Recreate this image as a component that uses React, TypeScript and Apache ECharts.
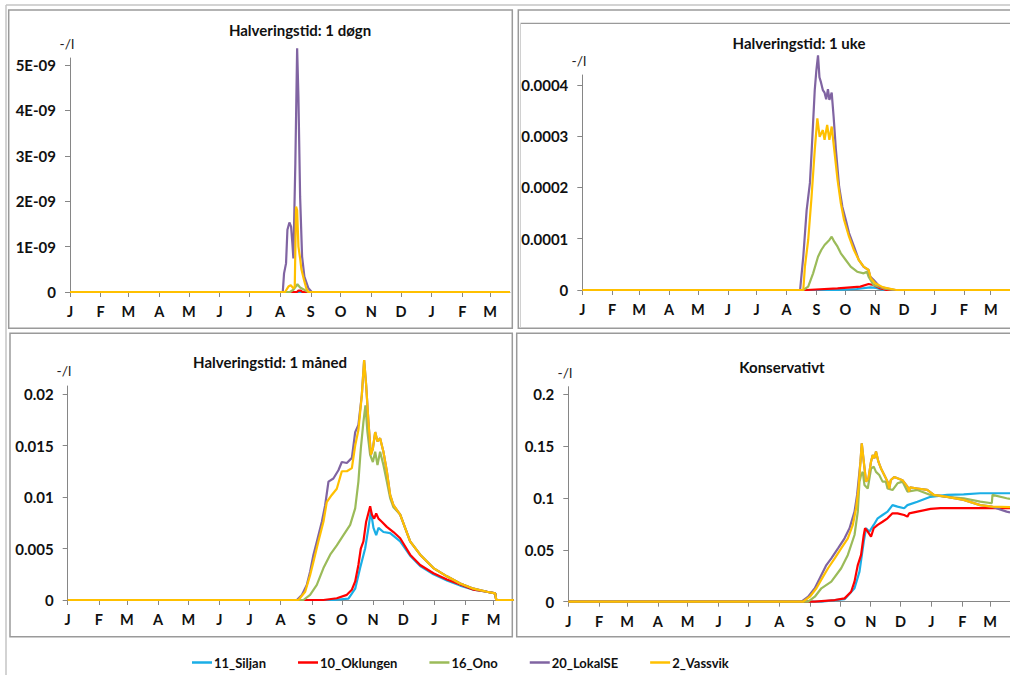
import React, { useEffect, useRef } from 'react';
import * as echarts from 'echarts';

// ---------- shared ----------
const seriesNames = ['11_Siljan', '10_Oklungen', '16_Ono', '20_LokalSE', '2_Vassvik'];
const seriesColors = ['#1AAEE6', '#FF0000', '#9BBB59', '#8064A2', '#FFC000'];
// day index from 1 January
const monthStarts = [0, 31, 59, 90, 120, 151, 181, 212, 243, 273, 304, 334, 365, 396, 424];
const monthLabels = ['J', 'F', 'M', 'A', 'M', 'J', 'J', 'A', 'S', 'O', 'N', 'D', 'J', 'F', 'M'];
const xMaxDay = 444;

// ---------- panel 1: Halveringstid 1 døgn ----------
const yTicks1 = [0, 1e-9, 2e-9, 3e-9, 4e-9, 5e-9];
const yLabels1 = ['0', '1E-09', '2E-09', '3E-09', '4E-09', '5E-09'];
const p1Siljan = [[0, 0], [444, 0]];
const p1Oklungen = [[0, 0], [229, 0], [230.5, 0.03e-9], [233, 0.03e-9], [234.5, 0], [444, 0]];
const p1Ono = [[0, 0], [222, 0], [225.4, 0.05e-9], [229.5, 0.17e-9], [232.2, 0.1e-9], [237.2, 0.04e-9], [240.6, 0], [444, 0]];
const p1LokalSE = [[0, 0], [214.7, 0], [216, 0.41e-9], [218, 0.63e-9], [219.4, 1.37e-9], [221.4, 1.53e-9], [223.1, 1.44e-9], [224.4, 1.07e-9], [225.4, 0.74e-9], [227.4, 2.84e-9], [229.2, 5.37e-9], [230.5, 4.3e-9], [232.2, 2.1e-9], [234.2, 0.78e-9], [236.5, 0.34e-9], [240.6, 0.08e-9], [244, 0], [444, 0]];
const p1Vassvik = [[0, 0], [217, 0], [220.4, 0.12e-9], [222.8, 0.15e-9], [225.4, 0.08e-9], [226.8, 0.12e-9], [228.1, 1.88e-9], [229.2, 1.8e-9], [230.5, 1.0e-9], [232.2, 0.74e-9], [233.5, 0.5e-9], [236.2, 0.26e-9], [238.5, 0.08e-9], [240.5, 0], [444, 0]];

// ---------- panel 2: Halveringstid 1 uke ----------
const yTicks2 = [0, 0.0001, 0.0002, 0.0003, 0.0004];
const yLabels2 = ['0', '0.0001', '0.0002', '0.0003', '0.0004'];
const p2Siljan = [[0, 0], [265, 0], [285, 0.000002], [298.9, 0.000005], [305, 0.000004], [312.4, 0], [444, 0]];
const p2Oklungen = [[0, 0], [232.9, 0], [265, 0.0000033], [288.7, 0.0000065], [297.2, 0.0000117], [302.3, 0.0000098], [309, 0.0000033], [315.7, 0], [444, 0]];
const p2Ono = [[0, 0], [229.4, 0], [234.5, 0.0000065], [239.6, 0.0000325], [244.7, 0.000065], [248.1, 0.000078], [251.5, 0.0000878], [256.5, 0.0000976], [258.9, 0.000104], [261.6, 0.0000943], [265, 0.0000845], [268.4, 0.0000716], [273.5, 0.0000585], [278.6, 0.0000455], [285.3, 0.0000357], [292.1, 0.0000325], [295.5, 0.0000357], [297.2, 0.000026], [302.3, 0.0000098], [312.4, 0.0000033], [322.5, 0], [444, 0]];
const p2LokalSE = [[0, 0], [226.1, 0], [229.4, 0.000065], [232.9, 0.000156], [236.3, 0.000209], [238, 0.000267], [241.3, 0.00039], [243, 0.000429], [244.7, 0.000458], [246.2, 0.000415], [247.8, 0.000405], [249.7, 0.00039], [251.5, 0.000385], [253.2, 0.000372], [255, 0.000392], [256.5, 0.000371], [258.9, 0.000385], [260.9, 0.000338], [263.3, 0.000273], [266.6, 0.000202], [270, 0.000162], [273.5, 0.000137], [276.9, 0.000111], [282, 0.000085], [287, 0.000059], [292.1, 0.000045], [297.2, 0.000039], [298.9, 0.000026], [302.3, 0.00002], [309, 0.000006], [319.2, 0.000002], [325, 0], [444, 0]];
const p2Vassvik = [[0, 0], [229.4, 0], [231.1, 0.0000455], [234.5, 0.0000976], [238, 0.000182], [241.3, 0.000273], [244, 0.000335], [246.4, 0.000299], [249.7, 0.000312], [251.5, 0.000293], [254.2, 0.000322], [256.5, 0.000293], [258.9, 0.000319], [261.6, 0.000273], [265, 0.000215], [268.4, 0.000169], [271.7, 0.000137], [276.9, 0.000104], [282, 0.000078], [287, 0.0000585], [292.1, 0.0000455], [297.2, 0.000039], [299.5, 0.0000228], [304, 0.000013], [312.4, 0.000005], [325.9, 0], [444, 0]];

// ---------- panel 3: Halveringstid 1 måned ----------
const yTicks3 = [0, 0.005, 0.01, 0.015, 0.02];
const yLabels3 = ['0', '0.005', '0.01', '0.015', '0.02'];
const p3Siljan = [[0, 0], [264.5, 0], [279.5, 0.00014], [286.2, 0.0011], [291.1, 0.0031], [296.1, 0.005], [299.4, 0.007], [301.8, 0.0086], [304.4, 0.007], [307.1, 0.0063], [309.4, 0.007], [314.3, 0.0066], [321, 0.0065], [331, 0.0057], [340.9, 0.0043], [350.9, 0.0033], [364.1, 0.0025], [377.5, 0.0019], [390.7, 0.0014], [404, 0.001], [417.3, 0.0008], [425.6, 0.00065], [426.6, 0], [444, 0]];
const p3Oklungen = [[0, 0], [254.6, 0], [267.9, 0.00017], [277.9, 0.0005], [282.9, 0.001], [286.2, 0.0018], [289.4, 0.0034], [291.8, 0.005], [294.4, 0.0057], [297.1, 0.0076], [301.1, 0.0091], [302.8, 0.0083], [305.1, 0.0079], [307.1, 0.0084], [309.4, 0.0079], [312.7, 0.0076], [317.7, 0.0071], [324.3, 0.0066], [331, 0.006], [340.9, 0.0044], [350.9, 0.0034], [364.1, 0.0026], [377.5, 0.002], [390.7, 0.0015], [404, 0.001], [417.3, 0.0008], [425.6, 0.00065], [426.6, 0], [444, 0]];
const p3Ono = [[0, 0], [234.7, 0], [241.3, 0.0005], [248, 0.00146], [254.6, 0.0031], [261.3, 0.0044], [267.9, 0.0053], [274.5, 0.0063], [281.2, 0.0073], [286.2, 0.0089], [289.4, 0.0115], [291.8, 0.0147], [294.4, 0.0173], [296.4, 0.0189], [298.4, 0.0163], [301.1, 0.0141], [303.8, 0.0134], [306.1, 0.0144], [308.4, 0.0131], [311, 0.0144], [314.3, 0.0131], [317.7, 0.0115], [321, 0.0099], [324.3, 0.009], [331, 0.0083], [340.9, 0.0057], [350.9, 0.0044], [364.1, 0.0031], [377.5, 0.0023], [390.7, 0.0016], [404, 0.0011], [417.3, 0.0008], [425.6, 0.00065], [426.6, 0], [444, 0]];
const p3LokalSE = [[0, 0], [228.1, 0], [233.1, 0.00049], [238, 0.00146], [241.3, 0.00275], [244.6, 0.00437], [248, 0.00566], [253, 0.0076], [256.3, 0.0092], [259.6, 0.0115], [264.5, 0.0118], [269.5, 0.0126], [272.9, 0.0134], [277.9, 0.0133], [282.9, 0.0138], [286.2, 0.0163], [289.4, 0.017], [292.8, 0.0199], [295.1, 0.0233], [297.1, 0.0209], [299.4, 0.0173], [301.8, 0.0141], [303.8, 0.0147], [306.1, 0.0163], [308.4, 0.0154], [311, 0.0157], [314.3, 0.0144], [317.7, 0.0125], [321, 0.0102], [324.3, 0.0092], [331, 0.0083], [340.9, 0.0057], [350.9, 0.0044], [364.1, 0.0031], [377.5, 0.0023], [390.7, 0.0016], [404, 0.0011], [417.3, 0.0008], [425.6, 0.00065], [426.6, 0], [444, 0]];
const p3Vassvik = [[0, 0], [229.7, 0], [236.4, 0.0008], [241.3, 0.0024], [244.6, 0.0037], [249.6, 0.0057], [254.6, 0.0076], [257.9, 0.0095], [262.9, 0.0102], [267.9, 0.0108], [272.9, 0.0125], [277.9, 0.0125], [282.9, 0.0128], [286.2, 0.015], [289.4, 0.0165], [292.8, 0.0199], [295.1, 0.0233], [297.1, 0.0209], [299.4, 0.0173], [301.8, 0.0141], [303.8, 0.0147], [306.1, 0.0163], [308.4, 0.0154], [311, 0.0157], [314.3, 0.0144], [317.7, 0.0125], [321, 0.0102], [324.3, 0.0092], [331, 0.0083], [340.9, 0.0057], [350.9, 0.0044], [364.1, 0.0031], [377.5, 0.0023], [390.7, 0.0016], [404, 0.0011], [417.3, 0.0008], [425.6, 0.00065], [426.6, 0], [444, 0]];

// ---------- panel 4: Konservativt ----------
const yTicks4 = [0, 0.05, 0.1, 0.15, 0.2];
const yLabels4 = ['0', '0.05', '0.1', '0.15', '0.2'];
const p4Siljan = [[0, 0], [254.4, 0], [277.7, 0.0024], [287.7, 0.0129], [292.7, 0.0289], [297, 0.0578], [299.3, 0.0707], [302.7, 0.0674], [307, 0.0739], [311, 0.0803], [315.9, 0.0835], [320.9, 0.0867], [325.9, 0.093], [330.9, 0.0915], [337.6, 0.09], [340.9, 0.093], [350.9, 0.0963], [364.1, 0.101], [380.8, 0.1028], [397.4, 0.1034], [414, 0.1044], [444, 0.1044]];
const p4Oklungen = [[0, 0], [247.8, 0], [267.8, 0.0016], [277.7, 0.0032], [284.3, 0.0096], [287.7, 0.0193], [291, 0.0353], [294.3, 0.045], [297, 0.0642], [298.3, 0.0707], [301, 0.0674], [304.3, 0.0626], [307, 0.0707], [311, 0.0739], [315.9, 0.077], [320.9, 0.0803], [325.9, 0.0851], [330.9, 0.0851], [337.6, 0.0835], [340.9, 0.0819], [342.6, 0.085], [350.9, 0.0867], [364.1, 0.0893], [374.1, 0.09], [444, 0.09]];
const p4Ono = [[0, 0], [241.1, 0], [247.8, 0.0048], [254.4, 0.0129], [264.4, 0.0193], [274.3, 0.0322], [281, 0.045], [287.7, 0.0642], [291, 0.0867], [292.7, 0.1156], [294.3, 0.122], [296, 0.125], [297.7, 0.1124], [301, 0.109], [304.3, 0.128], [307, 0.13], [309.3, 0.125], [312.6, 0.122], [315.9, 0.1156], [319.2, 0.1156], [320.9, 0.109], [325.9, 0.1075], [330.9, 0.114], [335.9, 0.1156], [340.9, 0.106], [350.9, 0.1076], [364.1, 0.1028], [380.8, 0.101], [397.4, 0.0996], [414, 0.0963], [425.7, 0.0948], [426.4, 0.1028], [440.6, 0.0996], [444, 0.099]];
const p4LokalSE = [[0, 0], [234.4, 0], [241.1, 0.0048], [247.8, 0.0129], [254.4, 0.0257], [259.4, 0.0353], [264.4, 0.0418], [271.1, 0.0514], [277.7, 0.061], [282.7, 0.0707], [287.7, 0.0867], [290.3, 0.1028], [293.7, 0.1348], [295, 0.1525], [297, 0.1348], [299.3, 0.1156], [301.7, 0.1188], [304.3, 0.1348], [306, 0.1413], [307.7, 0.1381], [309.3, 0.1445], [311.7, 0.1348], [314.2, 0.1285], [317.6, 0.122], [320.9, 0.1156], [322.6, 0.109], [324.2, 0.1172], [327.6, 0.12], [330.9, 0.1188], [335.9, 0.117], [340.9, 0.1108], [342.6, 0.106], [343.5, 0.11], [350.9, 0.109], [360.8, 0.1076], [367.5, 0.1028], [380.8, 0.101], [397.4, 0.098], [414, 0.093], [425.7, 0.0915], [440.6, 0.0867], [444, 0.086]];
const p4Vassvik = [[0, 0], [236.1, 0], [242.8, 0.0048], [249.4, 0.0129], [256.1, 0.0241], [261.1, 0.0322], [267.8, 0.0418], [274.3, 0.0514], [281, 0.061], [286, 0.0739], [289.3, 0.09], [291.7, 0.1092], [293.7, 0.1348], [295, 0.1525], [297, 0.1348], [299.3, 0.1156], [301.7, 0.1188], [304.3, 0.1348], [306, 0.1413], [307.7, 0.1381], [309.3, 0.1445], [311.7, 0.1348], [314.2, 0.1285], [317.6, 0.122], [320.9, 0.1156], [322.6, 0.109], [324.2, 0.1172], [327.6, 0.12], [330.9, 0.1188], [335.9, 0.117], [340.9, 0.1108], [342.6, 0.106], [343.5, 0.11], [350.9, 0.109], [360.8, 0.1076], [367.5, 0.1028], [380.8, 0.101], [397.4, 0.098], [414, 0.093], [425.7, 0.0915], [444, 0.091]];

const FONT = 'Lato, "Open Sans", sans-serif';

const panels = [
  { title: 'Halveringstid: 1 døgn', titlePos: [300, 30], unitPos: [67, 43], grid: { left: 70, top: 58, width: 440, height: 234 }, yMax: 5.154e-9, yTicks: yTicks1, yLabels: yLabels1, data: [p1Siljan, p1Oklungen, p1Ono, p1LokalSE, p1Vassvik] },
  { title: 'Halveringstid: 1 uke', titlePos: [799, 43], unitPos: [579, 60], grid: { left: 582.3, top: 75, width: 437, height: 215 }, yMax: 0.0004195, yTicks: yTicks2, yLabels: yLabels2, data: [p2Siljan, p2Oklungen, p2Ono, p2LokalSE, p2Vassvik] },
  { title: 'Halveringstid: 1 måned', titlePos: [270, 362], unitPos: [64, 370], grid: { left: 67.7, top: 386, width: 446, height: 214 }, yMax: 0.02078, yTicks: yTicks3, yLabels: yLabels3, data: [p3Siljan, p3Oklungen, p3Ono, p3LokalSE, p3Vassvik] },
  { title: 'Konservativt', titlePos: [782, 367], unitPos: [565, 372], grid: { left: 568.3, top: 386.7, width: 445, height: 215 }, yMax: 0.207, yTicks: yTicks4, yLabels: yLabels4, data: [p4Siljan, p4Oklungen, p4Ono, p4LokalSE, p4Vassvik] },
];

const AXIS_COLOR = '#868686';
const BORDER = '#9a9a9a';
const OUTER = '#c4c4c4';

function buildOption() {
  const grids = panels.map((p) => p.grid);
  const xAxes = panels.map((p, i) => ({
    type: 'value',
    gridIndex: i,
    min: 0,
    max: xMaxDay,
    splitLine: { show: false },
    axisLine: { show: true, lineStyle: { color: AXIS_COLOR, width: 1 } },
    axisTick: { show: true, length: 5, lineStyle: { color: AXIS_COLOR }, customValues: monthStarts },
    axisLabel: {
      customValues: monthStarts,
      margin: 12,
      color: '#111',
      fontFamily: FONT,
      fontWeight: 'bold',
      fontSize: 14.5,
      formatter: (v: number) => {
        const k = monthStarts.indexOf(Math.round(v));
        return k >= 0 ? monthLabels[k] : '';
      },
    },
  }));
  const yAxes = panels.map((p, i) => ({
    type: 'value',
    gridIndex: i,
    min: 0,
    max: p.yMax,
    splitLine: { show: false },
    axisLine: { show: true, lineStyle: { color: AXIS_COLOR, width: 1 } },
    axisTick: { show: true, length: 5, lineStyle: { color: AXIS_COLOR }, customValues: p.yTicks },
    axisLabel: {
      customValues: p.yTicks,
      margin: 14,
      color: '#111',
      fontFamily: FONT,
      fontWeight: 'bold',
      fontSize: 15,
      formatter: (v: number) => {
        let best = 0;
        p.yTicks.forEach((t, k) => {
          if (Math.abs(t - v) < Math.abs(p.yTicks[best] - v)) best = k;
        });
        return p.yLabels[best];
      },
    },
  }));
  const series: any[] = [];
  panels.forEach((p, i) => {
    p.data.forEach((d, s) => {
      series.push({
        type: 'line',
        name: seriesNames[s],
        xAxisIndex: i,
        yAxisIndex: i,
        data: d,
        symbol: 'none',
        showSymbol: false,
        clip: false,
        color: seriesColors[s],
        lineStyle: { width: 2.2, color: seriesColors[s] },
        z: 2 + s,
      });
    });
  });

  const graphic: any[] = [
    // outer worksheet frame
    { type: 'line', shape: { x1: 6, y1: 5, x2: 1010, y2: 5 }, style: { stroke: OUTER, lineWidth: 1.5 } },
    { type: 'line', shape: { x1: 6, y1: 5, x2: 6, y2: 675 }, style: { stroke: OUTER, lineWidth: 1.5 } },
    // panel frames
    { type: 'rect', shape: { x: 8.7, y: 10, width: 503.6, height: 318.3 }, style: { fill: 'none', stroke: BORDER, lineWidth: 1.5 } },
    { type: 'rect', shape: { x: 518.3, y: 10, width: 500, height: 318.3 }, style: { fill: 'none', stroke: BORDER, lineWidth: 1.5 } },
    { type: 'line', shape: { x1: 520.5, y1: 23.3, x2: 1010, y2: 23.3 }, style: { stroke: BORDER, lineWidth: 1.2 } },
    { type: 'line', shape: { x1: 520.5, y1: 23.3, x2: 520.5, y2: 328 }, style: { stroke: '#d0d0d0', lineWidth: 1 } },
    { type: 'rect', shape: { x: 10, y: 333.3, width: 502.3, height: 303.4 }, style: { fill: 'none', stroke: BORDER, lineWidth: 1.5 } },
    { type: 'rect', shape: { x: 516.7, y: 333.3, width: 500, height: 303.4 }, style: { fill: 'none', stroke: BORDER, lineWidth: 1.5 } },
  ];
  panels.forEach((p) => {
    graphic.push({
      type: 'text',
      x: p.titlePos[0],
      y: p.titlePos[1],
      style: { text: p.title, align: 'center', verticalAlign: 'middle', fontFamily: FONT, fontWeight: 'bold', fontSize: 15, fill: '#111' },
    });
    graphic.push({
      type: 'text',
      x: p.unitPos[0],
      y: p.unitPos[1],
      style: { text: '-/l', align: 'center', verticalAlign: 'middle', fontFamily: FONT, fontSize: 14, fill: '#222' },
    });
  });

  return {
    animation: false,
    backgroundColor: '#ffffff',
    grid: grids,
    xAxis: xAxes,
    yAxis: yAxes,
    series,
    graphic,
    legend: {
      data: seriesNames,
      left: 187,
      top: 651,
      icon: 'rect',
      itemWidth: 20,
      itemHeight: 2.5,
      itemGap: 32,
      textStyle: { fontFamily: FONT, fontWeight: 'bold', fontSize: 13, color: '#111', padding: [0, 0, 0, -3] },
      selectedMode: false,
    },
  };
}

export default function App() {
  const ref = useRef<HTMLDivElement>(null);
  useEffect(() => {
    if (!ref.current) return;
    const chart = echarts.init(ref.current, undefined, { renderer: 'svg' });
    chart.setOption(buildOption() as any);
    return () => chart.dispose();
  }, []);
  return (
    <div
      ref={ref}
      style={{ position: 'fixed', left: 0, top: 0, width: 1010, height: 675, background: '#fff', overflow: 'hidden' }}
    />
  );
}
